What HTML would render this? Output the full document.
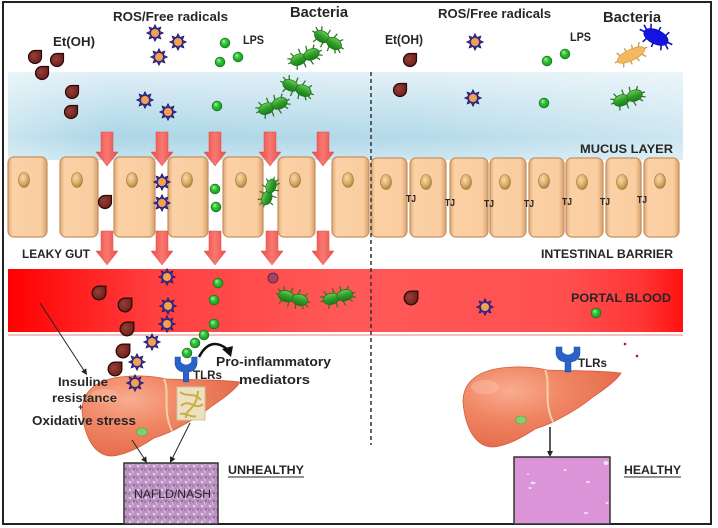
<!DOCTYPE html>
<html><head><meta charset="utf-8"><style>
html,body{margin:0;padding:0;background:#fff;}
svg{display:block;}
text{font-family:"Liberation Sans",sans-serif;font-weight:bold;fill:#262626;}
</style></head><body>
<svg width="718" height="528" viewBox="0 0 718 528" xmlns="http://www.w3.org/2000/svg">
<defs>
  <linearGradient id="muc" x1="0" y1="0" x2="0" y2="1">
    <stop offset="0" stop-color="#e0eff6"/><stop offset="0.45" stop-color="#c0e0ed"/>
    <stop offset="0.75" stop-color="#acd6e7"/><stop offset="1" stop-color="#c6e4ef"/>
  </linearGradient>
  <linearGradient id="mucH" gradientUnits="userSpaceOnUse" x1="8" y1="0" x2="683" y2="0">
    <stop offset="0" stop-color="#fff" stop-opacity="0.35"/><stop offset="0.15" stop-color="#fff" stop-opacity="0"/>
    <stop offset="0.6" stop-color="#fff" stop-opacity="0.1"/><stop offset="1" stop-color="#fff" stop-opacity="0.4"/>
  </linearGradient>
  <linearGradient id="blood" gradientUnits="userSpaceOnUse" x1="8" y1="0" x2="683" y2="0">
    <stop offset="0" stop-color="#ff0000"/><stop offset="0.22" stop-color="#ff4040"/>
    <stop offset="0.5" stop-color="#ff5858"/><stop offset="0.82" stop-color="#ff5050"/>
    <stop offset="0.94" stop-color="#ff3535"/><stop offset="1" stop-color="#ff1010"/>
  </linearGradient>
  <linearGradient id="cell" x1="0" y1="0" x2="1" y2="0">
    <stop offset="0" stop-color="#e2a872"/><stop offset="0.12" stop-color="#fbd1a6"/>
    <stop offset="0.85" stop-color="#f9cd9f"/><stop offset="1" stop-color="#d89e68"/>
  </linearGradient>
  <radialGradient id="nuc" cx="0.4" cy="0.35" r="0.7">
    <stop offset="0" stop-color="#f6dca6"/><stop offset="0.6" stop-color="#d8aa66"/><stop offset="1" stop-color="#a87a3c"/>
  </radialGradient>
  <linearGradient id="arr" x1="0" y1="0" x2="1" y2="0">
    <stop offset="0" stop-color="#ee4a45"/><stop offset="0.5" stop-color="#f87872"/><stop offset="1" stop-color="#ee4a45"/>
  </linearGradient>
  <radialGradient id="dropg" cx="0.4" cy="0.4" r="0.7">
    <stop offset="0" stop-color="#934038"/><stop offset="1" stop-color="#6a1c18"/>
  </radialGradient>
  <radialGradient id="lpsg" cx="0.5" cy="0.5" r="0.6" fx="0.35" fy="0.3">
    <stop offset="0" stop-color="#b0f5a8"/><stop offset="0.4" stop-color="#34c43a"/><stop offset="1" stop-color="#0c8a18"/>
  </radialGradient>
  <linearGradient id="bg" x1="0" y1="0" x2="0" y2="1">
    <stop offset="0" stop-color="#6ccc58"/><stop offset="0.5" stop-color="#2e9e28"/><stop offset="1" stop-color="#1c7a1a"/>
  </linearGradient>
  <radialGradient id="liv" cx="0.3" cy="0.3" r="0.85">
    <stop offset="0" stop-color="#f9ad90"/><stop offset="0.4" stop-color="#f08664"/>
    <stop offset="0.85" stop-color="#e56c4c"/><stop offset="1" stop-color="#d45a3e"/>
  </radialGradient>
  <pattern id="naf" width="8" height="8" patternUnits="userSpaceOnUse">
    <rect width="8" height="8" fill="#bb92c2"/>
    <circle cx="2" cy="2" r="1.2" fill="#e8d4ec"/>
    <circle cx="6" cy="5" r="1" fill="#8a5898"/>
    <circle cx="5" cy="1" r="0.8" fill="#dcc0e2"/>
    <circle cx="1" cy="6" r="0.9" fill="#9c68a6"/>
    <circle cx="4.5" cy="7" r="0.6" fill="#f2e4f4"/>
  </pattern>
  <g id="drop">
    <path d="M0,-6.5 A6.5,6.5 0 1,0 6.5,0 L6.5,-6.5 Z" fill="url(#dropg)" stroke="#2a0806" stroke-width="1.2" stroke-linejoin="round"/>
  </g>
  <g id="ros">
    <polygon points="0,-8.5 1.91,-4.62 6.01,-6.01 4.62,-1.91 8.5,0 4.62,1.91 6.01,6.01 1.91,4.62 0,8.5 -1.91,4.62 -6.01,6.01 -4.62,1.91 -8.5,0 -4.62,-1.91 -6.01,-6.01 -1.91,-4.62" fill="#3a2c92" stroke="#1e1460" stroke-width="0.6"/>
    <circle r="4" fill="#f2a24c"/>
  </g>
  <g id="lps"><circle r="5" fill="url(#lpsg)" stroke="#0a5a12" stroke-width="0.5"/></g>
  <g id="bacG">
    <path d="M-10,-4 L-12,-9 M-3,-5 L-3,-10 M4,-5 L5,-10 M10,-4 L13,-8 M-10,4 L-12,9 M-3,5 L-3,10 M4,5 L5,10 M10,4 L13,8 M-14,0 L-18,0 M14,0 L18,0 M-13,-3 L-17,-5 M13,3 L17,5" stroke="#2a7a20" stroke-width="1.3"/>
    <ellipse cx="-7" cy="0" rx="8" ry="5.5" fill="url(#bg)" stroke="#1f6a18" stroke-width="0.7"/>
    <ellipse cx="7" cy="0" rx="8" ry="5.5" fill="url(#bg)" stroke="#1f6a18" stroke-width="0.7"/>
  </g>
  <g id="bacB">
    <path d="M-8,-5 L-10,-10 M0,-6 L0,-11 M8,-5 L10,-10 M-8,5 L-10,10 M0,6 L0,11 M8,5 L10,10 M-13,0 L-18,0 M13,0 L18,0 M-12,-3 L-16,-6 M12,3 L16,6" stroke="#1010c0" stroke-width="1.6"/>
    <ellipse rx="13" ry="7" fill="#1414e0" stroke="#0a0aa0" stroke-width="0.7"/>
  </g>
  <g id="bacO">
    <path d="M-10,-4 L-12,-8 M-3,-5 L-3,-9 M4,-5 L5,-9 M10,-4 L13,-8 M-10,4 L-12,8 M-3,5 L-3,9 M4,5 L5,9 M10,4 L13,8 M-15,0 L-18,0 M15,0 L18,0" stroke="#c89848" stroke-width="1.3"/>
    <ellipse rx="15" ry="5.5" fill="#f5b860" stroke="#d09a48" stroke-width="0.7"/>
  </g>
  <g id="liver">
    <path d="M0,35 C0,14 16,4 38,1 C55,-1 72,0 84,3 C105,4 130,3 158,6 C154,13 142,22 130,30 C118,40 104,48 92,54 C86,57 78,60 72,62 C60,70 44,79 30,80 C12,80 2,60 0,35 Z" fill="url(#liv)" stroke="#d25e42" stroke-width="0.8"/>
    <path d="M82,3 C88,15 80,35 90,55" stroke="#f6dcb0" stroke-width="2" fill="none" opacity="0.85"/>
    <ellipse cx="22" cy="20" rx="14" ry="7" fill="#fbc2a8" opacity="0.45"/>
  </g>
  <g id="tlr">
    <path d="M0,0 L6,0 L6,5 Q12,11 18,5 L18,0 L24,0 L24,7 Q23,14 15,15 L15,25 L9,25 L9,15 Q1,14 0,7 Z" fill="#2a62c8" stroke="#1a4aa0" stroke-width="0.5"/>
  </g>
</defs>

<!-- frame -->
<rect x="3" y="2" width="708" height="522" fill="#fff" stroke="#222" stroke-width="2"/>

<!-- mucus -->
<rect x="8" y="72" width="675" height="88" fill="url(#muc)"/>
<rect x="8" y="72" width="675" height="88" fill="url(#mucH)"/>

<!-- cells -->
<g stroke="#c49060" stroke-width="1.2" fill="url(#cell)">
  <rect x="8" y="157" width="39" height="80" rx="6"/>
  <rect x="60" y="157" width="38" height="80" rx="6"/>
  <rect x="114" y="157" width="41" height="80" rx="6"/>
  <rect x="168" y="157" width="40" height="80" rx="6"/>
  <rect x="223" y="157" width="40" height="80" rx="6"/>
  <rect x="278" y="157" width="37" height="80" rx="6"/>
  <rect x="332" y="157" width="37" height="80" rx="6"/>
  <rect x="371" y="158" width="36" height="79" rx="6"/>
  <rect x="410" y="158" width="36" height="79" rx="6"/>
  <rect x="450" y="158" width="38" height="79" rx="6"/>
  <rect x="490" y="158" width="36" height="79" rx="6"/>
  <rect x="529" y="158" width="35" height="79" rx="6"/>
  <rect x="566" y="158" width="37" height="79" rx="6"/>
  <rect x="606" y="158" width="35" height="79" rx="6"/>
  <rect x="644" y="158" width="35" height="79" rx="6"/>
</g>
<g fill="url(#nuc)" stroke="#a07838" stroke-width="0.6">
  <ellipse cx="24" cy="180" rx="5.5" ry="7.5"/>
  <ellipse cx="77" cy="180" rx="5.5" ry="7.5"/>
  <ellipse cx="132" cy="180" rx="5.5" ry="7.5"/>
  <ellipse cx="187" cy="180" rx="5.5" ry="7.5"/>
  <ellipse cx="241" cy="180" rx="5.5" ry="7.5"/>
  <ellipse cx="295" cy="180" rx="5.5" ry="7.5"/>
  <ellipse cx="348" cy="180" rx="5.5" ry="7.5"/>
  <ellipse cx="386" cy="182" rx="5.5" ry="7.5"/>
  <ellipse cx="426" cy="182" rx="5.5" ry="7.5"/>
  <ellipse cx="466" cy="182" rx="5.5" ry="7.5"/>
  <ellipse cx="505" cy="182" rx="5.5" ry="7.5"/>
  <ellipse cx="544" cy="181" rx="5.5" ry="7.5"/>
  <ellipse cx="582" cy="182" rx="5.5" ry="7.5"/>
  <ellipse cx="622" cy="182" rx="5.5" ry="7.5"/>
  <ellipse cx="660" cy="181" rx="5.5" ry="7.5"/>
</g>

<!-- TJ labels -->
<g font-size="10">
  <text x="406" y="202" textLength="10" lengthAdjust="spacingAndGlyphs">TJ</text>
  <text x="445" y="206" textLength="10" lengthAdjust="spacingAndGlyphs">TJ</text>
  <text x="484" y="207" textLength="10" lengthAdjust="spacingAndGlyphs">TJ</text>
  <text x="524" y="207" textLength="10" lengthAdjust="spacingAndGlyphs">TJ</text>
  <text x="562" y="205" textLength="10" lengthAdjust="spacingAndGlyphs">TJ</text>
  <text x="600" y="205" textLength="10" lengthAdjust="spacingAndGlyphs">TJ</text>
  <text x="637" y="203" textLength="10" lengthAdjust="spacingAndGlyphs">TJ</text>
</g>

<!-- portal blood -->
<rect x="8" y="334" width="675" height="2" fill="#f3c0c0"/>
<rect x="8" y="269" width="675" height="63" fill="url(#blood)"/>

<!-- red arrows -->
<g fill="url(#arr)" stroke="#e04a45" stroke-width="0.5">
  <path d="M101,132 L113,132 L113,152 L118,152 L107,166 L96,152 L101,152 Z"/>
  <path d="M156,132 L168,132 L168,152 L173,152 L162,166 L151,152 L156,152 Z"/>
  <path d="M209,132 L221,132 L221,152 L226,152 L215,166 L204,152 L209,152 Z"/>
  <path d="M264,132 L276,132 L276,152 L281,152 L270,166 L259,152 L264,152 Z"/>
  <path d="M317,132 L329,132 L329,152 L334,152 L323,166 L312,152 L317,152 Z"/>
  <path d="M101,231 L113,231 L113,251 L118,251 L107,265 L96,251 L101,251 Z"/>
  <path d="M156,231 L168,231 L168,251 L173,251 L162,265 L151,251 L156,251 Z"/>
  <path d="M209,231 L221,231 L221,251 L226,251 L215,265 L204,251 L209,251 Z"/>
  <path d="M266,231 L278,231 L278,251 L283,251 L272,265 L261,251 L266,251 Z"/>
  <path d="M317,231 L329,231 L329,251 L334,251 L323,265 L312,251 L317,251 Z"/>
</g>

<!-- dashed divider -->
<line x1="371" y1="72" x2="371" y2="445" stroke="#333" stroke-width="1.5" stroke-dasharray="4,3"/>

<!-- livers -->
<use href="#liver" transform="translate(463,367)"/>
<ellipse cx="521" cy="420" rx="5.5" ry="4" fill="#80d070" stroke="#5aa040" stroke-width="0.6"/>
<use href="#liver" transform="translate(82,376)"/>
<ellipse cx="142" cy="432" rx="5.5" ry="4" fill="#80d070" stroke="#5aa040" stroke-width="0.6"/>

<!-- fibrosis square -->
<rect x="177" y="387" width="28" height="33" fill="#eee0c2" stroke="#d4c39a" stroke-width="1"/>
<path d="M180,392 C188,398 192,391 201,400 M181,406 C189,398 196,411 203,404 M186,418 C185,408 196,412 198,391 M180,414 C186,412 190,418 196,416" stroke="#c8b040" stroke-width="2" fill="none"/>

<!-- TLRs -->
<use href="#tlr" transform="translate(556,347)"/>
<use href="#tlr" transform="translate(175,357) scale(0.92,1)"/>

<!-- particles: drops -->
<use href="#drop" transform="translate(35,57)"/>
<use href="#drop" transform="translate(57,60)"/>
<use href="#drop" transform="translate(42,73)"/>
<use href="#drop" transform="translate(72,92)"/>
<use href="#drop" transform="translate(71,112)"/>
<use href="#drop" transform="translate(105,202)"/>
<use href="#drop" transform="translate(99,293) scale(1.05)"/>
<use href="#drop" transform="translate(125,305) scale(1.05)"/>
<use href="#drop" transform="translate(127,329) scale(1.05)"/>
<use href="#drop" transform="translate(123,351) scale(1.05)"/>
<use href="#drop" transform="translate(115,369) scale(1.05)"/>
<use href="#drop" transform="translate(410,60)"/>
<use href="#drop" transform="translate(400,90)"/>
<use href="#drop" transform="translate(411,298) scale(1.05)"/>

<!-- ROS -->
<use href="#ros" transform="translate(155,33)"/>
<use href="#ros" transform="translate(178,42)"/>
<use href="#ros" transform="translate(159,57)"/>
<use href="#ros" transform="translate(145,100)"/>
<use href="#ros" transform="translate(168,112)"/>
<use href="#ros" transform="translate(162,182)"/>
<use href="#ros" transform="translate(162,203)"/>
<use href="#ros" transform="translate(167,277)"/>
<use href="#ros" transform="translate(168,306)"/>
<use href="#ros" transform="translate(167,324)"/>
<use href="#ros" transform="translate(152,342)"/>
<use href="#ros" transform="translate(137,362)"/>
<use href="#ros" transform="translate(135,383)"/>
<use href="#ros" transform="translate(475,42)"/>
<use href="#ros" transform="translate(473,98)"/>
<use href="#ros" transform="translate(485,307)"/>

<!-- LPS -->
<use href="#lps" transform="translate(225,43)"/>
<use href="#lps" transform="translate(238,57)"/>
<use href="#lps" transform="translate(220,62)"/>
<use href="#lps" transform="translate(217,106)"/>
<use href="#lps" transform="translate(215,189)"/>
<use href="#lps" transform="translate(216,207)"/>
<use href="#lps" transform="translate(218,283)"/>
<use href="#lps" transform="translate(214,300)"/>
<use href="#lps" transform="translate(214,324)"/>
<use href="#lps" transform="translate(204,335)"/>
<use href="#lps" transform="translate(195,343)"/>
<use href="#lps" transform="translate(187,353)"/>
<use href="#lps" transform="translate(547,61)"/>
<use href="#lps" transform="translate(565,54)"/>
<use href="#lps" transform="translate(544,103)"/>
<use href="#lps" transform="translate(596,313)"/>

<!-- purple dot -->
<circle cx="273" cy="278" r="5" fill="#a04468" stroke="#5a1a34" stroke-width="0.8"/>

<!-- bacteria -->
<use href="#bacG" transform="translate(328,40) rotate(30)"/>
<use href="#bacG" transform="translate(305,57) rotate(-22)"/>
<use href="#bacG" transform="translate(297,88) rotate(22)"/>
<use href="#bacG" transform="translate(273,106) rotate(-22)"/>
<use href="#bacG" transform="translate(269,192) rotate(-70) scale(0.9)"/>
<use href="#bacG" transform="translate(293,298) rotate(15)"/>
<use href="#bacG" transform="translate(338,297) rotate(-15)"/>
<use href="#bacG" transform="translate(628,98) rotate(-20)"/>
<use href="#bacB" transform="translate(656,37) rotate(25)"/>
<use href="#bacO" transform="translate(631,55) rotate(-26)"/>

<!-- small red dots -->
<circle cx="625" cy="344" r="1.3" fill="#a02020"/>
<circle cx="637" cy="356" r="1.3" fill="#a02020"/>

<!-- connectors -->
<line x1="40" y1="303" x2="84" y2="370.5" stroke="#222" stroke-width="1"/>
<polygon points="87,375 81.2,371.6 86.2,368.4" fill="#222"/>
<line x1="132" y1="440" x2="144.5" y2="459" stroke="#222" stroke-width="1"/>
<polygon points="147,463 141.2,459.6 146.2,456.4" fill="#222"/>
<line x1="190" y1="423" x2="172" y2="459" stroke="#222" stroke-width="1"/>
<polygon points="170,463 170,456.3 175.4,458.9" fill="#222"/>
<line x1="550" y1="427" x2="550" y2="452" stroke="#222" stroke-width="1.5"/>
<polygon points="550,457 547,451 553,451" fill="#222"/>
<path d="M199,357 Q210,336 227,349" stroke="#111" stroke-width="2.5" fill="none"/>
<polygon points="222,349 233,346 231,357" fill="#111"/>

<!-- histology boxes -->
<rect x="124" y="463" width="94" height="61" fill="url(#naf)" stroke="#333" stroke-width="1.5"/>
<rect x="514" y="457" width="96" height="67" fill="#dc94d8" stroke="#333" stroke-width="1.5"/>
<g fill="#f4e0f4">
  <ellipse cx="533" cy="483" rx="2.5" ry="1.2"/><ellipse cx="530" cy="488" rx="1.5" ry="1"/>
  <ellipse cx="588" cy="482" rx="2" ry="1"/><ellipse cx="606" cy="463" rx="2.5" ry="2"/>
  <ellipse cx="586" cy="513" rx="2" ry="1"/><ellipse cx="607" cy="503" rx="1.5" ry="1"/>
  <ellipse cx="565" cy="470" rx="1.5" ry="1"/><ellipse cx="528" cy="474" rx="1.2" ry="0.8"/>
</g>

<!-- labels -->
<text x="113" y="21" font-size="13" textLength="115" lengthAdjust="spacingAndGlyphs">ROS/Free radicals</text>
<text x="290" y="17" font-size="15" textLength="58" lengthAdjust="spacingAndGlyphs">Bacteria</text>
<text x="53" y="46" font-size="13" textLength="42" lengthAdjust="spacingAndGlyphs">Et(OH)</text>
<text x="243" y="44" font-size="12" textLength="21" lengthAdjust="spacingAndGlyphs">LPS</text>
<text x="438" y="18" font-size="13" textLength="113" lengthAdjust="spacingAndGlyphs">ROS/Free radicals</text>
<text x="603" y="22" font-size="15" textLength="58" lengthAdjust="spacingAndGlyphs">Bacteria</text>
<text x="385" y="44" font-size="13" textLength="38" lengthAdjust="spacingAndGlyphs">Et(OH)</text>
<text x="570" y="41" font-size="12" textLength="21" lengthAdjust="spacingAndGlyphs">LPS</text>
<text x="580" y="153" font-size="12" textLength="93" lengthAdjust="spacingAndGlyphs">MUCUS LAYER</text>
<text x="541" y="258" font-size="12" textLength="132" lengthAdjust="spacingAndGlyphs">INTESTINAL BARRIER</text>
<text x="571" y="302" font-size="12" textLength="100" lengthAdjust="spacingAndGlyphs">PORTAL BLOOD</text>
<text x="22" y="258" font-size="12" textLength="68" lengthAdjust="spacingAndGlyphs">LEAKY GUT</text>
<text x="58" y="386" font-size="12" textLength="50" lengthAdjust="spacingAndGlyphs">Insuline</text>
<text x="52" y="402" font-size="12" textLength="65" lengthAdjust="spacingAndGlyphs">resistance</text>
<text x="78" y="410" font-size="9">+</text>
<text x="32" y="425" font-size="13" textLength="104" lengthAdjust="spacingAndGlyphs">Oxidative stress</text>
<text x="216" y="366" font-size="13" textLength="115" lengthAdjust="spacingAndGlyphs">Pro-inflammatory</text>
<text x="239" y="384" font-size="13" textLength="71" lengthAdjust="spacingAndGlyphs">mediators</text>
<text x="193" y="379" font-size="12" textLength="29" lengthAdjust="spacingAndGlyphs">TLRs</text>
<text x="578" y="367" font-size="12" textLength="29" lengthAdjust="spacingAndGlyphs">TLRs</text>
<text x="228" y="474" font-size="12" textLength="76" lengthAdjust="spacingAndGlyphs">UNHEALTHY</text>
<line x1="228" y1="477" x2="304" y2="477" stroke="#262626" stroke-width="1"/>
<text x="624" y="474" font-size="12" textLength="57" lengthAdjust="spacingAndGlyphs">HEALTHY</text>
<line x1="624" y1="477" x2="681" y2="477" stroke="#262626" stroke-width="1"/>
<text x="134" y="498" font-size="12" font-weight="normal" textLength="77" lengthAdjust="spacingAndGlyphs" style="font-weight:normal">NAFLD/NASH</text>
</svg>
</body></html>
